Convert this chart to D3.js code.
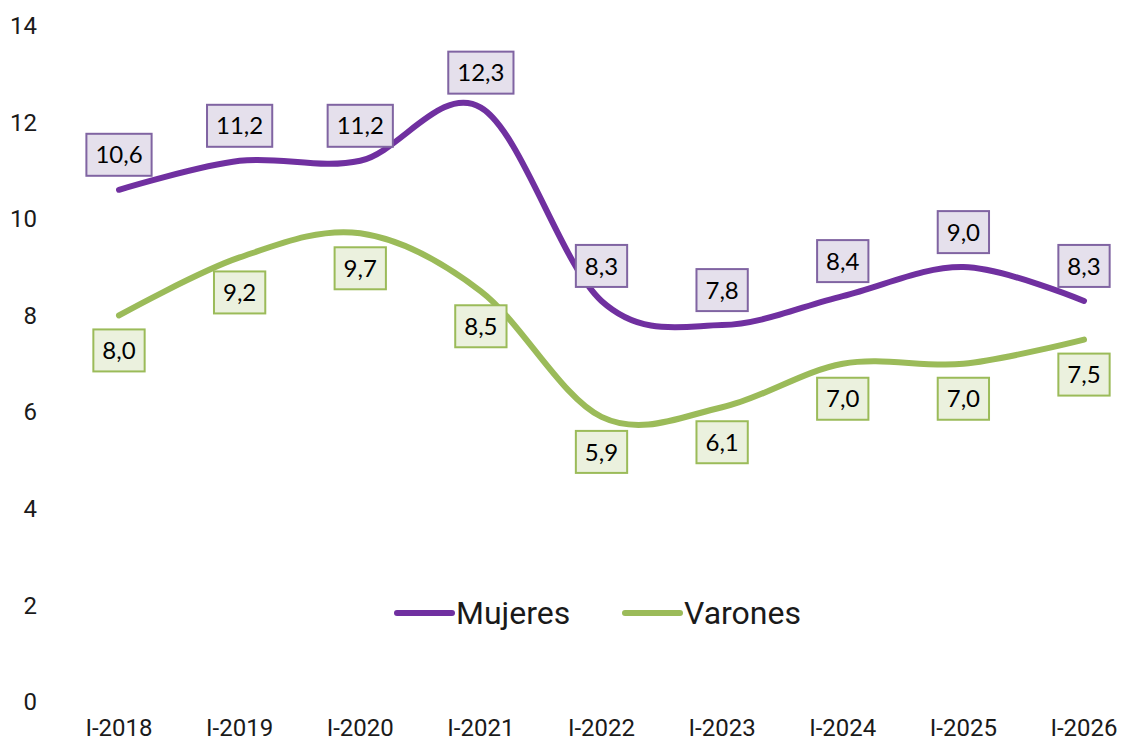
<!DOCTYPE html>
<html>
<head>
<meta charset="utf-8">
<script src="https://cdn.jsdelivr.net/npm/d3@7"></script>
<style>
	html, body { margin: 0; padding: 0; background: #fff; }
	.axis-label { font-family: Roboto, sans-serif; font-size: 24px; fill: #1a1a1a; }
	.legend-label { font-family: Roboto, sans-serif; font-size: 32px; fill: #1a1a1a; }
	.data-label { font-family: Lato, sans-serif; font-size: 24px; fill: #000; }
</style>
</head>
<body>
<div id="chart"></div>
<script>
var categories = ["I-2018", "I-2019", "I-2020", "I-2021", "I-2022", "I-2023", "I-2024", "I-2025", "I-2026"];
var mujeres = [10.6, 11.2, 11.2, 12.3, 8.3, 7.8, 8.4, 9.0, 8.3];
var varones = [8.0, 9.2, 9.7, 8.5, 5.9, 6.1, 7.0, 7.0, 7.5];
var yTicks = [0, 2, 4, 6, 8, 10, 12, 14];
var seriesNames = ["Mujeres", "Varones"];

(function() {

	var width = 1122,
		height = 742,
		series = [
			{name: seriesNames[0], values: mujeres, color: "#7030a0", boxFill: "#e5e0ec", boxStroke: "#8064a2", above: true},
			{name: seriesNames[1], values: varones, color: "#9bbb59", boxFill: "#ebf1de", boxStroke: "#9bbb59", above: false}
		];

	var x = d3.scalePoint().domain(categories).range([119, 1084]),
		y = d3.scaleLinear().domain([0, 14]).range([702, 25.5]);

	var svg = d3.select("#chart").append("svg")
		.attr("width", width)
		.attr("height", height);

	// y tick labels, no axis line or gridlines
	svg.append("g")
		.selectAll("text")
		.data(yTicks)
	  .enter().append("text")
		.attr("class", "axis-label")
		.attr("x", 37)
		.attr("y", function(d) { return y(d); })
		.attr("dy", "0.35em")
		.style("text-anchor", "end")
		.text(function(d) { return d; });

	svg.append("g")
		.selectAll("text")
		.data(categories)
	  .enter().append("text")
		.attr("class", "axis-label")
		.attr("x", function(d) { return x(d); })
		.attr("y", 736)
		.style("text-anchor", "middle")
		.text(function(d) { return d; });

	var line = d3.line()
		.x(function(d, i) { return x(categories[i]); })
		.y(function(d) { return y(d); })
		.curve(d3.curveCatmullRom.alpha(0));

	svg.append("g")
		.selectAll("path")
		.data(series)
	  .enter().append("path")
		.attr("d", function(s) { return line(s.values); })
		.attr("fill", "none")
		.attr("stroke", function(s) { return s.color; })
		.attr("stroke-width", 6)
		.attr("stroke-linecap", "round")
		.attr("stroke-linejoin", "round");

	// Boxed data labels: above the point for Mujeres, below for Varones
	var boxH = 42, gap = 14, pad = 9;
	series.forEach(function(s) {
		var g = svg.append("g").attr("class", "labels");
		s.values.forEach(function(v, i) {
			var cx = x(categories[i]),
				top = s.above ? y(v) - gap - boxH : y(v) + gap,
				rect = g.append("rect"),
				txt = g.append("text")
					.attr("class", "data-label")
					.attr("x", cx)
					.attr("y", top + boxH / 2)
					.attr("dy", "0.36em")
					.style("text-anchor", "middle")
					.text(d3.format(".1f")(v).replace(".", ","));
			var w = txt.node().getComputedTextLength() + pad * 2;
			rect.attr("x", cx - w / 2)
				.attr("y", top)
				.attr("width", w)
				.attr("height", boxH)
				.attr("fill", s.boxFill)
				.attr("stroke", s.boxStroke)
				.attr("stroke-width", 2);
		});
	});

	var legendPos = [397, 625];
	var legend = svg.append("g")
		.selectAll("g")
		.data(series)
	  .enter().append("g")
		.attr("transform", function(d, i) { return "translate(" + legendPos[i] + ",613)"; });

	legend.append("line")
		.attr("x1", 0)
		.attr("x2", 55)
		.attr("stroke", function(d) { return d.color; })
		.attr("stroke-width", 6)
		.attr("stroke-linecap", "round");

	legend.append("text")
		.attr("class", "legend-label")
		.attr("x", 59)
		.attr("y", 11)
		.text(function(d) { return d.name; });

}());
</script>
</body>
</html>
